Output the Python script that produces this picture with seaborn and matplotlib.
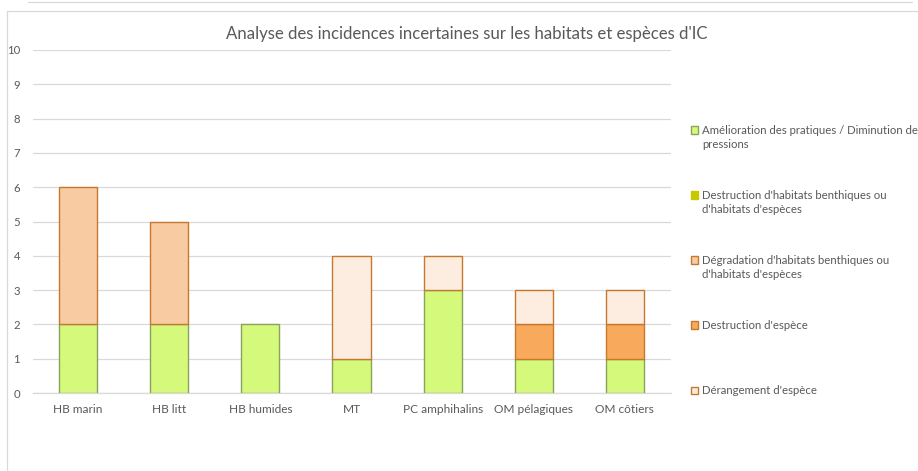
import matplotlib
matplotlib.use("Agg")
import matplotlib.pyplot as plt
from matplotlib.patches import Rectangle
from matplotlib.lines import Line2D
import seaborn as sns
import pandas as pd
import numpy as np

categories = ["HB marin", "HB litt", "HB humides", "MT", "PC amphihalins", "OM pélagiques", "OM côtiers"]
series_names = [
    "Amélioration des pratiques / Diminution des\npressions",
    "Destruction d'habitats benthiques ou\nd'habitats d'espèces",
    "Dégradation d'habitats benthiques ou\nd'habitats d'espèces",
    "Destruction d'espèce",
    "Dérangement d'espèce",
]
amelioration = [2, 2, 2, 1, 3, 1, 1]
destruction_habitats = [0, 0, 0, 0, 0, 0, 0]
degradation_habitats = [4, 3, 0, 0, 0, 0, 0]
destruction_espece = [0, 0, 0, 0, 0, 1, 1]
derangement = [0, 0, 0, 3, 1, 1, 1]
y_ticks = [0, 1, 2, 3, 4, 5, 6, 7, 8, 9, 10]
title = "Analyse des incidences incertaines sur les habitats et espèces d'IC"

series_values = [amelioration, destruction_habitats, degradation_habitats, destruction_espece, derangement]
fills = ["#D5FA7B", "#C9C800", "#F9CBA3", "#F8A95B", "#FDECE0"]
edges = ["#8AA35A", "#C9C800", "#C5782E", "#C5782E", "#C5782E"]

sns.set_theme(style="white")
plt.rcParams["font.family"] = ["Lato", "DejaVu Sans"]

fig = plt.figure(figsize=(9.18, 4.71), dpi=100)
ax = fig.add_axes([32.5 / 918, 1 - 393 / 471, (670.5 - 32.5) / 918, (393 - 50) / 471])

bottom = np.zeros(len(categories))
for name, vals, fc, ec in zip(series_names, series_values, fills, edges):
    df = pd.DataFrame({"cat": categories, "val": np.array(vals, dtype=float)})
    sns.barplot(data=df, x="cat", y="val", bottom=bottom, color=fc, saturation=1,
                width=0.42, ax=ax, edgecolor=ec, linewidth=1.0, zorder=3)
    bottom = bottom + np.array(vals, dtype=float)

for p in ax.patches:
    if p.get_height() == 0:
        p.set_edgecolor("none")
        p.set_linewidth(0)

ax.set_xlim(-0.5, len(categories) - 0.5)
ax.set_ylim(0, 10)
ax.set_yticks(y_ticks)
ax.set_yticklabels([str(t) for t in y_ticks])
ax.yaxis.grid(True, color="#D9D9D9", linewidth=0.9, zorder=0)
ax.set_axisbelow(True)
for s in ["top", "right", "left"]:
    ax.spines[s].set_visible(False)
ax.spines["bottom"].set_color("#D9D9D9")
ax.spines["bottom"].set_linewidth(0.9)
ax.set_xlabel("")
ax.set_ylabel("")
ax.tick_params(axis="both", length=0, colors="#595959")
ax.tick_params(axis="x", pad=8, labelsize=8.6)
ax.tick_params(axis="y", pad=9, labelsize=8.2)

fig.text(467 / 918, 1 - 34 / 471, title, ha="center", va="center", fontsize=12.1, color="#595959")

# legend
handles = [Rectangle((0, 0), 1, 1, facecolor=fc, edgecolor=ec, linewidth=1.0) for fc, ec in zip(fills, edges)]
first_lines = [n.split("\n")[0] for n in series_names]
leg = fig.legend(handles, first_lines, loc="upper left", bbox_to_anchor=(691 / 918, 1 - 125 / 471),
                 frameon=False, fontsize=8.2, labelcolor="#595959", handlelength=0.65, handleheight=0.65,
                 handletextpad=0.3, labelspacing=4.75, borderpad=0, borderaxespad=0)

fig.canvas.draw()
renderer = fig.canvas.get_renderer()
inv = fig.transFigure.inverted()
for txt, name in zip(leg.get_texts(), series_names):
    parts = name.split("\n")
    if len(parts) > 1:
        bb = txt.get_window_extent(renderer)
        x0, y0 = inv.transform((bb.x0, bb.y0 - 3))
        fig.text(x0, y0, parts[1], ha="left", va="top", fontsize=8.2, color="#595959")

# chart frame decoration
fig.add_artist(Line2D([7 / 918, 7 / 918], [0, 1 - 11 / 471], transform=fig.transFigure, color="#D9D9D9", lw=0.9))
fig.add_artist(Line2D([7 / 918, 1], [1 - 11 / 471, 1 - 11 / 471], transform=fig.transFigure, color="#D9D9D9", lw=0.9))
fig.add_artist(Line2D([28 / 918, 912 / 918], [1 - 2 / 471, 1 - 2 / 471], transform=fig.transFigure, color="#D9D9D9", lw=0.9))

fig.savefig("out.png", dpi=100, facecolor="white")
